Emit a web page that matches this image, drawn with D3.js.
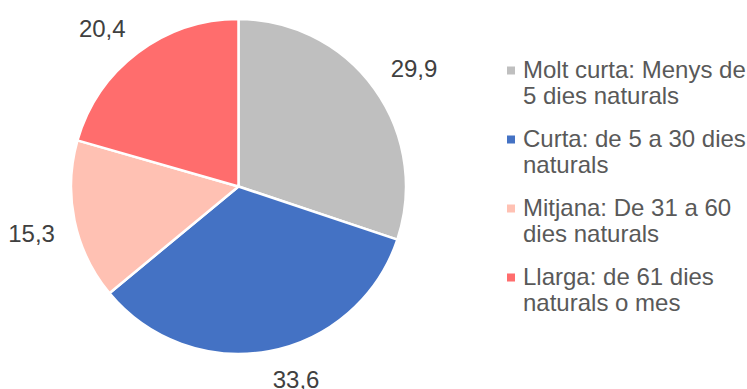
<!DOCTYPE html>
<html>
<head>
<meta charset="utf-8">
<script src="https://cdn.jsdelivr.net/npm/d3@7"></script>
<style>
  html, body { margin: 0; padding: 0; background: #fff; }
  svg { display: block; font-family: "Liberation Sans", Arial, sans-serif; }
</style>
</head>
<body>
<svg id="chart" width="747" height="389"></svg>
<script>
// Durada de les situacions (%)
const categories = [
  "Molt curta: Menys de 5 dies naturals",
  "Curta: de 5 a 30 dies naturals",
  "Mitjana: De 31 a 60 dies naturals",
  "Llarga: de 61 dies naturals o mes"
];
const values = [29.9, 33.6, 15.3, 20.4];
const valueLabels = ["29,9", "33,6", "15,3", "20,4"];
const legendLines = [
  ["Molt curta: Menys de", "5 dies naturals"],
  ["Curta: de 5 a 30 dies", "naturals"],
  ["Mitjana: De 31 a 60", "dies naturals"],
  ["Llarga: de 61 dies", "naturals o mes"]
];
const colors = ["#BFBFBF", "#4472C4", "#FFC1B3", "#FF6D6D"];

const svg = d3.select("#chart");
const cx = 238.5, cy = 186.5, radius = 167.5;
const labelGap = 20;      // distance between the pie edge and the nearest corner of a label
const capHalf = 8.5;      // half the cap height of 24px text

const color = d3.scaleOrdinal().domain(categories).range(colors);

const pie = d3.pie().sort(null).value(d => d.value);
const data = pie(categories.map((c, i) => ({ cat: c, value: values[i], label: valueLabels[i] })));

const arc = d3.arc().innerRadius(0).outerRadius(radius);

const g = svg.append("g").attr("transform", `translate(${cx},${cy})`);

g.selectAll("path.slice")
  .data(data)
  .join("path")
  .attr("class", "slice")
  .attr("d", arc)
  .attr("fill", d => color(d.data.cat))
  .attr("stroke", "#fff")
  .attr("stroke-width", 2.5)
  .attr("stroke-linejoin", "round");

// Value labels: the label box corner nearest the centre sits just outside the rim,
// along the slice's mid-angle.
g.selectAll("text.value")
  .data(data)
  .join("text")
  .attr("class", "value")
  .attr("text-anchor", "middle")
  .attr("dy", "0.35em")
  .attr("font-size", 24)
  .attr("fill", "#404040")
  .text(d => d.data.label)
  .attr("transform", function(d) {
    const a = (d.startAngle + d.endAngle) / 2;
    const ux = Math.sin(a), uy = -Math.cos(a);
    const D = radius + labelGap;
    const halfW = this.getComputedTextLength() / 2;
    const x = D * ux + Math.sign(ux) * halfW;
    const y = D * uy + Math.sign(uy) * capHalf;
    return `translate(${x},${y})`;
  });

// Legend
const legend = svg.append("g").attr("transform", "translate(507,0)");
const itemY = d3.scalePoint().domain(categories).range([78, 285]);
const lineH = 26;

const items = legend.selectAll("g.item")
  .data(categories)
  .join("g")
  .attr("class", "item")
  .attr("transform", d => `translate(0,${itemY(d)})`);

items.append("rect")
  .attr("x", 0)
  .attr("y", -11.5)
  .attr("width", 8)
  .attr("height", 8)
  .attr("fill", d => color(d));

items.append("text")
  .attr("x", 16)
  .attr("font-size", 24)
  .attr("fill", "#595959")
  .selectAll("tspan")
  .data((d, i) => legendLines[i])
  .join("tspan")
  .attr("x", 16)
  .attr("dy", (d, j) => j === 0 ? 0 : lineH)
  .text(d => d);
</script>
</body>
</html>
